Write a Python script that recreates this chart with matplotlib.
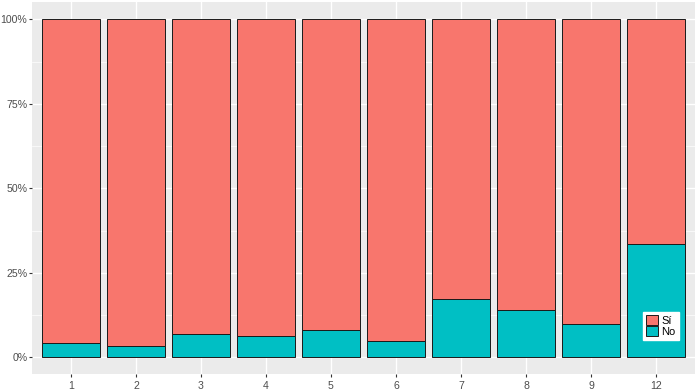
import matplotlib
matplotlib.use("Agg")
import matplotlib.pyplot as plt
from matplotlib.patches import Patch
from matplotlib.ticker import FixedLocator

plt.rcParams['font.family'] = ['Liberation Sans', 'DejaVu Sans']

categories = ["1", "2", "3", "4", "5", "6", "7", "8", "9", "12"]
no_pct = [4.3, 3.3, 7.0, 6.4, 8.2, 4.8, 17.2, 13.9, 9.9, 33.5]
si_pct = [100 - v for v in no_pct]
yticks = [0, 25, 50, 75, 100]
ytick_labels = ["0%", "25%", "50%", "75%", "100%"]

col_si = "#F8766D"
col_no = "#00BFC4"

fig = plt.figure(figsize=(7.0, 3.91), dpi=100)
ax = fig.add_axes([32/700, (391-374.2)/391, (695-32)/700, (374.2-2.4)/391])
ax.set_facecolor("#EBEBEB")

x = list(range(1, len(categories) + 1))
ax.bar(x, no_pct, width=0.9, color=col_no, edgecolor="#1a1a1a", linewidth=0.7, zorder=3)
ax.bar(x, si_pct, bottom=no_pct, width=0.9, color=col_si, edgecolor="#1a1a1a", linewidth=0.7, zorder=3)

ax.set_xlim(0.4, len(categories) + 0.6)
ax.set_ylim(-5, 105)
ax.set_xticks(x)
ax.set_xticklabels(categories)
ax.set_yticks(yticks)
ax.set_yticklabels(ytick_labels)
ax.yaxis.set_minor_locator(FixedLocator([12.5, 37.5, 62.5, 87.5]))

ax.grid(True, which="major", color="white", linewidth=1.0, zorder=0)
ax.grid(True, which="minor", axis="y", color="white", linewidth=0.5, zorder=0)
ax.set_axisbelow(True)
for s in ax.spines.values():
    s.set_visible(False)
ax.tick_params(axis="both", which="major", length=2.2, width=0.8, color="#333333",
               labelsize=7.6, labelcolor="#4D4D4D", pad=1.2)
ax.tick_params(axis="x", which="major", pad=3)
ax.tick_params(axis="both", which="minor", length=0)

handles = [Patch(facecolor=col_si, edgecolor="#1a1a1a", linewidth=0.7, label="Sí"),
           Patch(facecolor=col_no, edgecolor="#1a1a1a", linewidth=0.7, label="No")]
leg = ax.legend(handles=handles, loc="lower right", bbox_to_anchor=(0.976, 0.092),
                frameon=True, fontsize=8, handlelength=1.1, handleheight=1.0,
                handletextpad=0.3, labelspacing=0.0, borderpad=0.3, borderaxespad=0,
                fancybox=False)
leg.get_frame().set_facecolor("white")
leg.get_frame().set_edgecolor("white")
leg.get_frame().set_alpha(1)
leg.set_zorder(5)

fig.savefig("out.png", dpi=100)
